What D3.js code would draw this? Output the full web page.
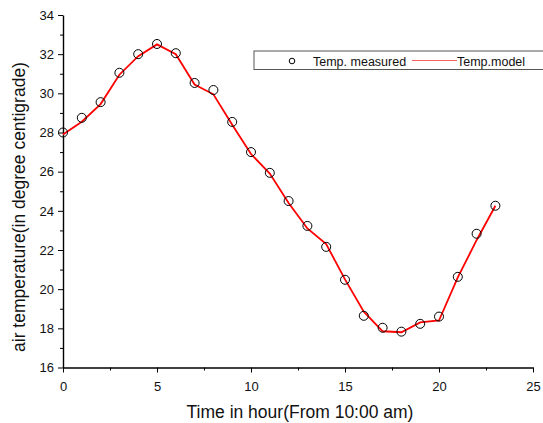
<!DOCTYPE html>
<html>
<head>
<meta charset="utf-8">
<script src="https://cdn.jsdelivr.net/npm/d3@7"></script>
<style>
body { margin: 0; background: #fff; }
text { font-family: "Liberation Sans", Arial, sans-serif; }
</style>
</head>
<body>
<div id="chart"></div>
<script>
// hours from 10:00 am
var hours = [0,1,2,3,4,5,6,7,8,9,10,11,12,13,14,15,16,17,18,19,20,21,22,23];
var tempMeasured = [28.0,28.75,29.55,31.05,32.0,32.52,32.05,30.53,30.17,28.54,27.0,25.94,24.5,23.23,22.16,20.48,18.64,18.03,17.83,18.23,18.6,20.63,22.83,24.26];
var tempModel = [27.9,28.55,29.45,30.95,31.9,32.5,32.0,30.45,29.95,28.4,26.9,25.9,24.4,23.1,22.3,20.5,18.85,17.85,17.8,18.3,18.4,20.6,22.5,24.26];
var xTicks = [0,5,10,15,20,25];
var yTicks = [16,18,20,22,24,26,28,30,32,34];

var width = 543, height = 423;

var svg = d3.select("#chart").append("svg")
    .attr("width", width)
    .attr("height", height);

var x = d3.scaleLinear().domain([0, 25]).range([63, 533]);
var y = d3.scaleLinear().domain([16, 34]).range([367.5, 15]);

// minor ticks
svg.append("g")
    .attr("transform", "translate(0,367.5)")
    .call(d3.axisBottom(x).tickValues(d3.range(2.5, 25, 5)).tickSize(3).tickFormat(""))
    .call(function(g) { g.select(".domain").remove(); });
svg.append("g")
    .attr("transform", "translate(63,0)")
    .call(d3.axisLeft(y).tickValues(d3.range(17, 34, 2)).tickSize(3).tickFormat(""))
    .call(function(g) { g.select(".domain").remove(); });

var xAxis = svg.append("g")
    .attr("transform", "translate(0,367.5)")
    .call(d3.axisBottom(x).tickValues(xTicks).tickSize(5).tickSizeOuter(0).tickPadding(9));
var yAxis = svg.append("g")
    .attr("transform", "translate(63,0)")
    .call(d3.axisLeft(y).tickValues(yTicks).tickSize(5).tickSizeOuter(0).tickPadding(4));

svg.selectAll(".tick text")
    .style("font-family", "'Liberation Sans', Arial, sans-serif")
    .style("font-size", "13px")
    .attr("fill", "#111");
svg.selectAll(".domain").attr("stroke-width", 1.4).attr("stroke", "#000");
svg.selectAll(".tick line").attr("stroke", "#000");

// model line
var line = d3.line()
    .x(function(d, i) { return x(hours[i]); })
    .y(function(d) { return y(d); });

svg.append("path")
    .datum(tempModel)
    .attr("d", line)
    .attr("fill", "none")
    .attr("stroke", "#ff0000")
    .attr("stroke-width", 1.8);

svg.append("g")
    .selectAll("circle")
    .data(tempMeasured)
    .enter()
    .append("circle")
    .attr("cx", function(d, i) { return x(hours[i]); })
    .attr("cy", function(d) { return y(d); })
    .attr("r", 4.5)
    .attr("fill", "none")
    .attr("stroke", "#000")
    .attr("stroke-width", 1);

// axis titles
svg.append("text")
    .attr("x", 300)
    .attr("y", 418)
    .attr("text-anchor", "middle")
    .style("font-size", "17.5px")
    .attr("fill", "#111")
    .text("Time in hour(From 10:00 am)");

svg.append("text")
    .attr("transform", "translate(25,207) rotate(-90)")
    .attr("text-anchor", "middle")
    .style("font-size", "17.5px")
    .attr("fill", "#111")
    .text("air temperature(in degree centigrade)");

// legend
var legend = svg.append("g");
legend.append("rect")
    .attr("x", 254).attr("y", 51)
    .attr("width", 300).attr("height", 18.5)
    .attr("fill", "#fff")
    .attr("stroke", "#555")
    .attr("stroke-width", 1);
legend.append("circle")
    .attr("cx", 292).attr("cy", 61)
    .attr("r", 2.8)
    .attr("fill", "none")
    .attr("stroke", "#000");
legend.append("text")
    .attr("x", 313).attr("y", 66)
    .style("font-size", "12.5px")
    .attr("fill", "#111")
    .text("Temp. measured");
legend.append("line")
    .attr("x1", 412).attr("x2", 457)
    .attr("y1", 60.5).attr("y2", 60.5)
    .attr("stroke", "#ff6060")
    .attr("stroke-width", 1);
legend.append("text")
    .attr("x", 457).attr("y", 66)
    .style("font-size", "12.5px")
    .attr("fill", "#111")
    .text("Temp.model");
</script>
</body>
</html>
